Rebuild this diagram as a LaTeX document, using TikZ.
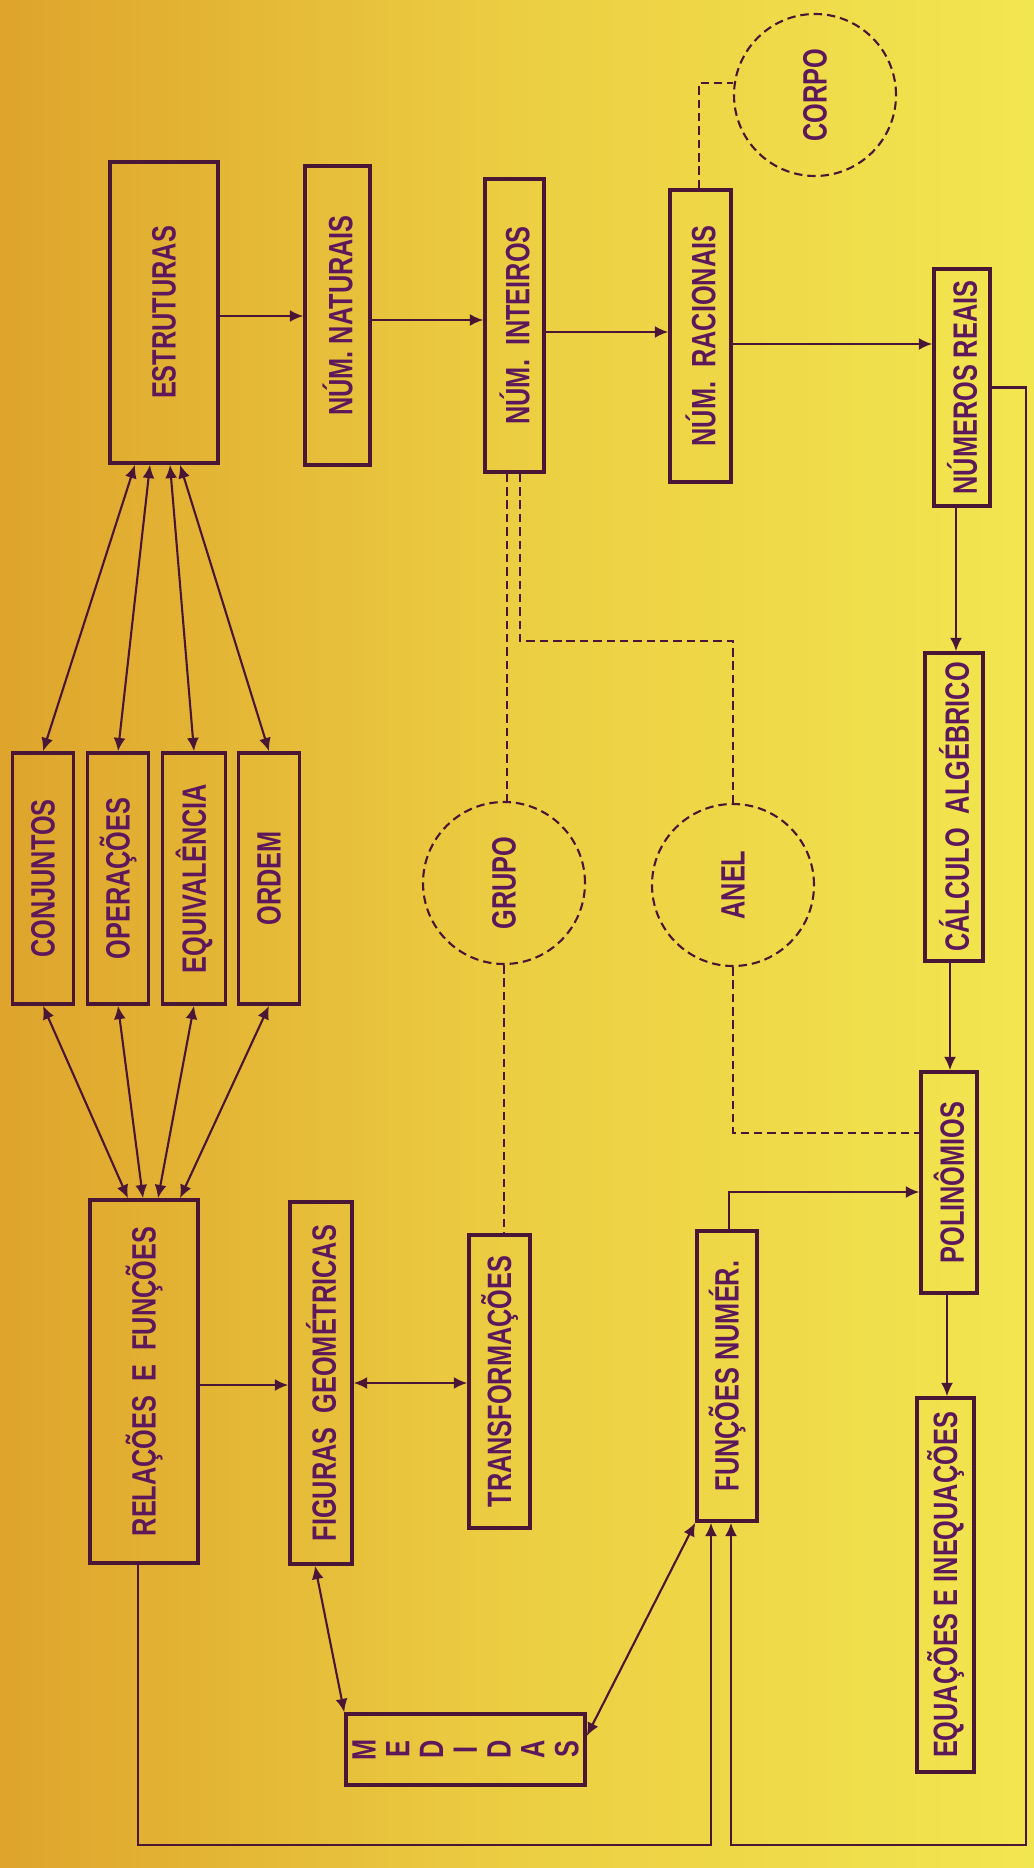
\documentclass[tikz,border=0pt]{standalone}
\usepackage{fontspec}
\setmainfont{Liberation Sans}[FakeStretch=0.75]
\usetikzlibrary{arrows.meta}
\definecolor{papelA}{RGB}{222,164,44}
\definecolor{papelB}{RGB}{236,206,66}
\definecolor{papelC}{RGB}{242,230,80}
\definecolor{tinta}{RGB}{92,24,90}
\definecolor{traco}{RGB}{74,22,54}
\tikzstyle{caixa}=[draw=traco, line width=1pt, text=tinta, inner sep=0pt, font=\bfseries\fontsize{9.6}{11}\selectfont]
\tikzstyle{bolha}=[circle, draw=traco, line width=0.6pt, dash pattern=on 2.4pt off 1.4pt, minimum size=1.62cm, inner sep=0pt, text=tinta, font=\bfseries\fontsize{9.6}{11}\selectfont]
\tikzstyle{seta}=[draw=traco, line width=0.6pt]
\tikzstyle{tracejado}=[draw=traco, line width=0.6pt, dash pattern=on 2.4pt off 1.4pt]

\begin{document}
\begin{tikzpicture}[y=-1cm, >={Latex[length=3.8pt,width=3.4pt]}]
\shade[left color=papelA, right color=papelC, middle color=papelB] (0,0) rectangle (10.34,18.68);
\useasboundingbox (0,0) rectangle (10.34,18.68);

% numeros
\node[caixa, minimum width=1.08cm, minimum height=3.01cm] at (1.64, 3.125) (estr) {\rotatebox{90}{ESTRUTURAS}};
\node[caixa, minimum width=0.65cm, minimum height=2.99cm] at (3.375, 3.155) (nat) {\rotatebox{90}{NÚM. NATURAIS}};
\node[caixa, minimum width=0.59cm, minimum height=2.93cm] at (5.145, 3.255) (int) {\rotatebox{90}{NÚM.~~INTEIROS}};
\node[caixa, minimum width=0.61cm, minimum height=2.92cm] at (7.005, 3.36) (rac) {\rotatebox{90}{NÚM.~~RACIONAIS}};
\node[caixa, minimum width=0.56cm, minimum height=2.37cm] at (9.62, 3.875) (reais) {\rotatebox{90}{NÚMEROS REAIS}};
\node[bolha] at (8.15, 0.95) (corpo) {\rotatebox{90}{CORPO}};

% fundamentos
\node[caixa, minimum width=0.61cm, minimum height=2.51cm] at (0.43, 8.785) (conj) {\rotatebox{90}{CONJUNTOS}};
\node[caixa, minimum width=0.61cm, minimum height=2.51cm] at (1.18, 8.785) (oper) {\rotatebox{90}{OPERAÇÕES}};
\node[caixa, minimum width=0.63cm, minimum height=2.51cm] at (1.94, 8.785) (equi) {\rotatebox{90}{EQUIVALÊNCIA}};
\node[caixa, minimum width=0.61cm, minimum height=2.51cm] at (2.69, 8.785) (ordem) {\rotatebox{90}{ORDEM}};
\node[bolha] at (5.04, 8.83) (grupo) {\rotatebox{90}{GRUPO}};
\node[bolha] at (7.33, 8.85) (anel) {\rotatebox{90}{ANEL}};

% algebra
\node[caixa, minimum width=0.58cm, minimum height=3.08cm] at (9.54, 8.07) (calc) {\rotatebox{90}{CÁLCULO~~ALGÉBRICO}};
\node[caixa, minimum width=0.56cm, minimum height=2.21cm] at (9.49, 11.825) (poli) {\rotatebox{90}{POLINÔMIOS}};
\node[caixa, minimum width=0.57cm, minimum height=3.74cm] at (9.455, 15.85) (equa) {\rotatebox{90}{EQUAÇÕES E INEQUAÇÕES}};

% relacoes e geometria
\node[caixa, minimum width=1.08cm, minimum height=3.63cm] at (1.44, 13.815) (rel) {\rotatebox{90}{RELAÇÕES~~E~~FUNÇÕES}};
\node[caixa, minimum width=0.62cm, minimum height=3.62cm] at (3.21, 13.83) (fig) {\rotatebox{90}{FIGURAS~~GEOMÉTRICAS}};
\node[caixa, minimum width=0.61cm, minimum height=2.93cm] at (4.995, 13.815) (trans) {\rotatebox{90}{TRANSFORMAÇÕES}};
\node[caixa, minimum width=0.60cm, minimum height=2.90cm] at (7.27, 13.76) (func) {\rotatebox{90}{FUNÇÕES NUMÉR.}};
\node[caixa, minimum width=2.39cm, minimum height=0.71cm] at (4.655, 17.495) (med) {\rotatebox{90}{\shortstack{M\\E\\D\\I\\D\\A\\S}}};

\coordinate (cantoE) at (1.38, 18.45);
\coordinate (cantoD) at (10.26, 18.45);

% cadeia dos numeros
\draw[seta,->] (estr.east |- 0,3.16) -- (nat.west |- 0,3.16);
\draw[seta,->] (nat.east |- 0,3.20) -- (int.west |- 0,3.20);
\draw[seta,->] (int.east |- 0,3.32) -- (rac.west |- 0,3.32);
\draw[seta,->] (rac.east |- 0,3.44) -- (reais.west |- 0,3.44);

% estruturas e relacoes
\draw[seta,<->] (estr.south -| 1.35,0) -- (conj.north);
\draw[seta,<->] (estr.south -| 1.50,0) -- (oper.north);
\draw[seta,<->] (estr.south -| 1.70,0) -- (equi.north);
\draw[seta,<->] (estr.south -| 1.80,0) -- (ordem.north);
\draw[seta,<->] (conj.south) -- (rel.north -| 1.28,0);
\draw[seta,<->] (oper.south) -- (rel.north -| 1.43,0);
\draw[seta,<->] (equi.south) -- (rel.north -| 1.58,0);
\draw[seta,<->] (ordem.south) -- (rel.north -| 1.80,0);

% geometria
\draw[seta,->] (rel.east |- 0,13.85) -- (fig.west |- 0,13.85);
\draw[seta,<->] (fig.east |- 0,13.83) -- (trans.west |- 0,13.83);
\draw[seta,<->] (fig.south -| 3.15,0) -- (med.north west);
\draw[seta,<->] (func.south west) -- (med.east |- 0,17.36);

% funcoes
\draw[seta,->] (rel.south -| cantoE) -- (cantoE) -| (func.south -| 7.11,0);
\draw[seta,->] (reais.east) -| (cantoD) -| (func.south -| 7.31,0);
\draw[seta,->] (func.north -| 7.29,0) |- (poli.west |- 0,11.92);

% calculo
\draw[seta,->] (reais.south -| 9.56,0) -- (calc.north -| 9.56,0);
\draw[seta,->] (calc.south -| 9.50,0) -- (poli.north -| 9.50,0);
\draw[seta,->] (poli.south -| 9.47,0) -- (equa.north -| 9.47,0);

% estruturas algebricas
\draw[tracejado] (rac.north -| 6.99,0) |- (corpo.west |- 0,0.83);
\draw[tracejado] (int.south -| 5.07,0) -- (grupo.north -| 5.07,0);
\draw[tracejado] (int.south -| 5.20,0) -- (5.20,6.41) -| (anel.north);
\draw[tracejado] (grupo.south) -- (grupo.south |- trans.north);
\draw[tracejado] (anel.south) |- (poli.west |- 0,11.33);
\end{tikzpicture}
\end{document}
